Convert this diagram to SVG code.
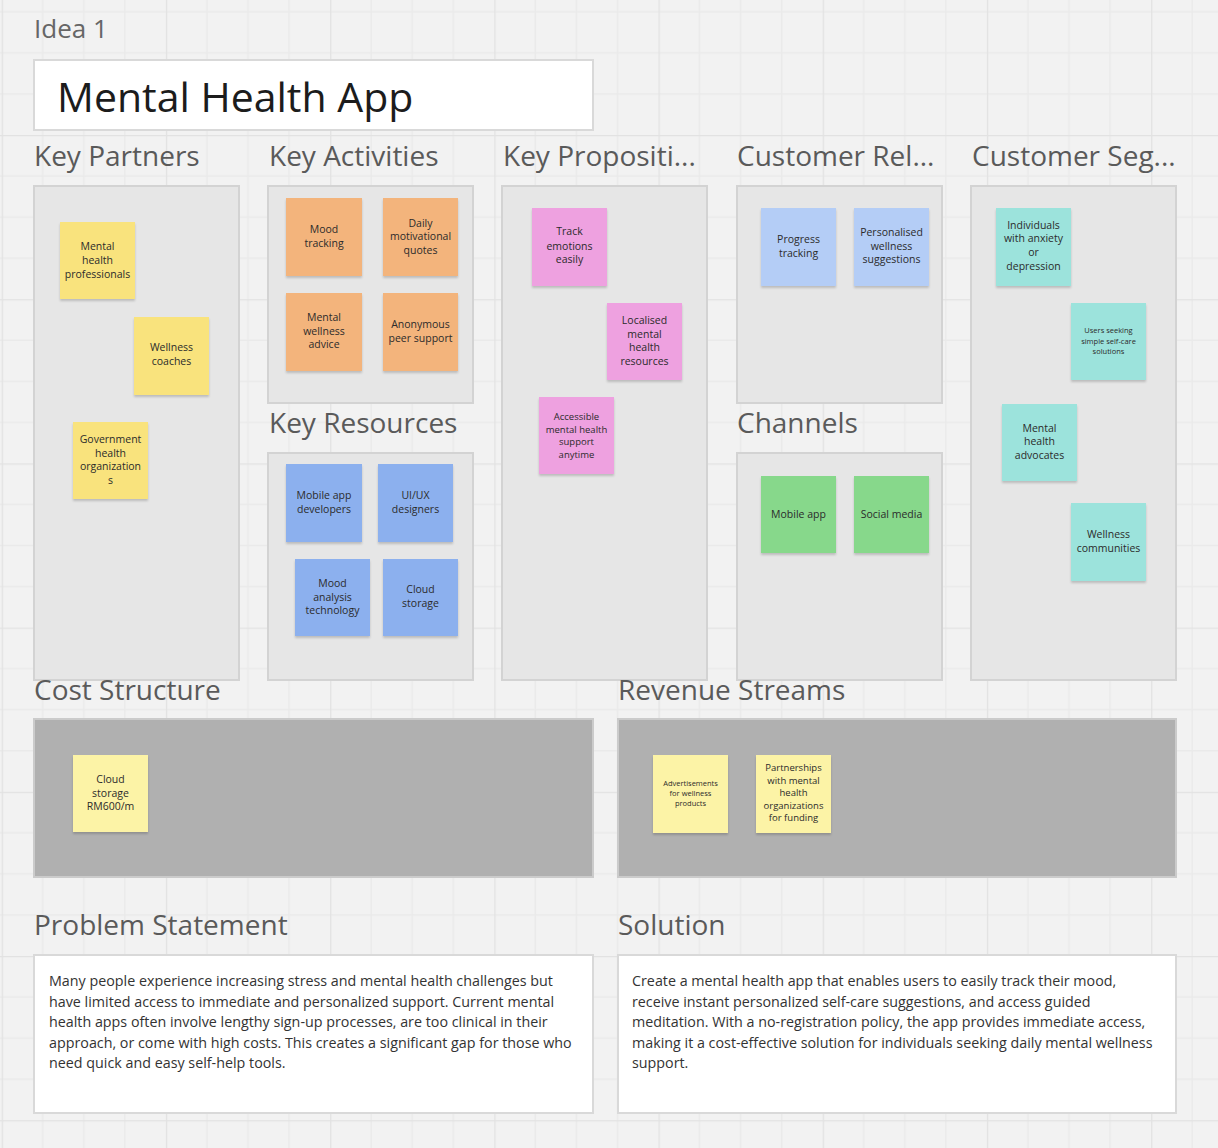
<svg xmlns="http://www.w3.org/2000/svg" width="1218" height="1148" viewBox="0 0 1218 1148">
<defs>
<pattern id="grid" x="1.7" y="-29.2" width="164.2" height="164.2" patternUnits="userSpaceOnUse">
<rect width="164.2" height="164.2" fill="#f2f2f2"/>
<g stroke="#eaeaea" stroke-width="1.5">
<line x1="41.05" y1="0" x2="41.05" y2="164.2"/>
<line x1="82.1" y1="0" x2="82.1" y2="164.2"/>
<line x1="123.15" y1="0" x2="123.15" y2="164.2"/>
<line x1="0" y1="41.05" x2="164.2" y2="41.05"/>
<line x1="0" y1="82.1" x2="164.2" y2="82.1"/>
<line x1="0" y1="123.15" x2="164.2" y2="123.15"/>
</g>
<g stroke="#e2e2e2" stroke-width="2.5">
<line x1="0" y1="0" x2="0" y2="164.2"/>
<line x1="0" y1="0" x2="164.2" y2="0"/>
</g>
</pattern>
<filter id="sh" x="-10%" y="-10%" width="120%" height="125%">
<feDropShadow dx="0" dy="2" stdDeviation="1.2" flood-color="#000" flood-opacity="0.18"/>
</filter>
</defs>
<style>
text{font-family:"Open Sans","Noto Sans","Liberation Sans",sans-serif}
.hd{font-size:28px;fill:#5a5a5a}
.panel{fill:#e6e6e6;stroke:#d3d3d3;stroke-width:2}
.dark{fill:#b0b0b0;stroke:#cbcbcb;stroke-width:2}
.white{fill:#ffffff;stroke:#d9d9d9;stroke-width:2}
.st{filter:url(#sh)}
.t{font-size:10.5px;fill:#2b2b2b;text-anchor:middle}
.ts{font-size:9.5px;fill:#2b2b2b;text-anchor:middle}
.tx{font-size:7.5px;fill:#2b2b2b;text-anchor:middle}
.y{fill:#f9e37d}
.o{fill:#f3b47c}
.b{fill:#8cb0ee}
.p{fill:#eea1e0}
.lb{fill:#b4cdf6}
.tl{fill:#9ce3dc}
.g{fill:#87d88b}
.py{fill:#fcf3a6}
.body{font-size:14.3px;fill:#333333}
</style>
<rect width="1218" height="1148" fill="url(#grid)"/>

<g id="header">
<text x="34" y="38" font-size="26" fill="#666666">Idea 1</text>
<rect x="34" y="60" width="559" height="70" class="white"/>
<text x="57" y="112" font-size="41" fill="#1c1c1c">Mental Health App</text>
</g>

<g id="connectors"></g>

<g id="key-partners">
<text class="hd" x="34" y="166">Key Partners</text>
<rect class="panel" x="34" y="186" width="205" height="494"/>
<g id="kp1"><rect class="st y" x="60" y="222" width="75" height="77"/><text class="t"><tspan x="97.5" y="250">Mental</tspan><tspan x="97.5" y="263.5">health</tspan><tspan x="97.5" y="277.5">professionals</tspan></text></g>
<g id="kp2"><rect class="st y" x="134" y="317" width="75" height="78"/><text class="t"><tspan x="171.5" y="351">Wellness</tspan><tspan x="171.5" y="365">coaches</tspan></text></g>
<g id="kp3"><rect class="st y" x="73" y="422" width="75" height="77"/><text class="t"><tspan x="110.5" y="443">Government</tspan><tspan x="110.5" y="456.5">health</tspan><tspan x="110.5" y="470">organization</tspan><tspan x="110.5" y="483.5">s</tspan></text></g>
</g>

<g id="key-activities">
<text class="hd" x="269" y="166">Key Activities</text>
<rect class="panel" x="268" y="186" width="205" height="217"/>
<g id="ka1"><rect class="st o" x="286" y="198" width="76" height="78"/><text class="t"><tspan x="324" y="232.5">Mood</tspan><tspan x="324" y="246.5">tracking</tspan></text></g>
<g id="ka2"><rect class="st o" x="383" y="198" width="75" height="78"/><text class="t"><tspan x="420.5" y="226.5">Daily</tspan><tspan x="420.5" y="240">motivational</tspan><tspan x="420.5" y="254">quotes</tspan></text></g>
<g id="ka3"><rect class="st o" x="286" y="293" width="76" height="78"/><text class="t"><tspan x="324" y="320.5">Mental</tspan><tspan x="324" y="334.5">wellness</tspan><tspan x="324" y="348">advice</tspan></text></g>
<g id="ka4"><rect class="st o" x="383" y="293" width="75" height="78"/><text class="t"><tspan x="420.5" y="327.5">Anonymous</tspan><tspan x="420.5" y="341.5">peer support</tspan></text></g>
</g>

<g id="key-resources">
<text class="hd" x="269" y="433">Key Resources</text>
<rect class="panel" x="268" y="453" width="205" height="227"/>
<g id="kr1"><rect class="st b" x="286" y="464" width="76" height="78"/><text class="t"><tspan x="324" y="498.5">Mobile app</tspan><tspan x="324" y="512.5">developers</tspan></text></g>
<g id="kr2"><rect class="st b" x="378" y="464" width="75" height="78"/><text class="t"><tspan x="415.5" y="498.5">UI/UX</tspan><tspan x="415.5" y="512.5">designers</tspan></text></g>
<g id="kr3"><rect class="st b" x="295" y="559" width="75" height="77"/><text class="t"><tspan x="332.5" y="586.5">Mood</tspan><tspan x="332.5" y="600.5">analysis</tspan><tspan x="332.5" y="614">technology</tspan></text></g>
<g id="kr4"><rect class="st b" x="383" y="559" width="75" height="77"/><text class="t"><tspan x="420.5" y="593">Cloud</tspan><tspan x="420.5" y="607">storage</tspan></text></g>
</g>

<g id="key-propositions">
<text class="hd" x="503" y="166">Key Propositi...</text>
<rect class="panel" x="502" y="186" width="205" height="494"/>
<g id="vp1"><rect class="st p" x="532" y="208" width="75" height="78"/><text class="t"><tspan x="569.5" y="235">Track</tspan><tspan x="569.5" y="249.5">emotions</tspan><tspan x="569.5" y="263">easily</tspan></text></g>
<g id="vp2"><rect class="st p" x="607" y="303" width="75" height="77"/><text class="t"><tspan x="644.5" y="323.5">Localised</tspan><tspan x="644.5" y="337.5">mental</tspan><tspan x="644.5" y="351">health</tspan><tspan x="644.5" y="364.5">resources</tspan></text></g>
<g id="vp3"><rect class="st p" x="539" y="397" width="75" height="77"/><text class="ts"><tspan x="576.5" y="420">Accessible</tspan><tspan x="576.5" y="432.5">mental health</tspan><tspan x="576.5" y="445">support</tspan><tspan x="576.5" y="457.5">anytime</tspan></text></g>
</g>

<g id="customer-relationships">
<text class="hd" x="737" y="166">Customer Rel...</text>
<rect class="panel" x="737" y="186" width="205" height="217"/>
<g id="cr1"><rect class="st lb" x="761" y="208" width="75" height="78"/><text class="t"><tspan x="798.5" y="242.5">Progress</tspan><tspan x="798.5" y="256.5">tracking</tspan></text></g>
<g id="cr2"><rect class="st lb" x="854" y="208" width="75" height="78"/><text class="t"><tspan x="891.5" y="235.5">Personalised</tspan><tspan x="891.5" y="249.5">wellness</tspan><tspan x="891.5" y="263">suggestions</tspan></text></g>
</g>

<g id="channels">
<text class="hd" x="737" y="433">Channels</text>
<rect class="panel" x="737" y="453" width="205" height="227"/>
<g id="chn1"><rect class="st g" x="761" y="476" width="75" height="77"/><text class="t" x="798.5" y="517.5">Mobile app</text></g>
<g id="chn2"><rect class="st g" x="854" y="476" width="75" height="77"/><text class="t" x="891.5" y="517.5">Social media</text></g>
</g>

<g id="customer-segments">
<text class="hd" x="972" y="166">Customer Seg...</text>
<rect class="panel" x="971" y="186" width="205" height="494"/>
<g id="cs1"><rect class="st tl" x="996" y="208" width="75" height="78"/><text class="t"><tspan x="1033.5" y="228.5">Individuals</tspan><tspan x="1033.5" y="242">with anxiety</tspan><tspan x="1033.5" y="256">or</tspan><tspan x="1033.5" y="269.5">depression</tspan></text></g>
<g id="cs2"><rect class="st tl" x="1071" y="303" width="75" height="77"/><text class="tx"><tspan x="1108.5" y="333">Users seeking</tspan><tspan x="1108.5" y="343.5">simple self-care</tspan><tspan x="1108.5" y="353.5">solutions</tspan></text></g>
<g id="cs3"><rect class="st tl" x="1002" y="404" width="75" height="77"/><text class="t"><tspan x="1039.5" y="431.5">Mental</tspan><tspan x="1039.5" y="445">health</tspan><tspan x="1039.5" y="458.5">advocates</tspan></text></g>
<g id="cs4"><rect class="st tl" x="1071" y="503" width="75" height="78"/><text class="t"><tspan x="1108.5" y="537.5">Wellness</tspan><tspan x="1108.5" y="551.5">communities</tspan></text></g>
</g>

<g id="cost-structure">
<text class="hd" x="34" y="700">Cost Structure</text>
<rect class="dark" x="34" y="719" width="559" height="158"/>
<g id="cost1"><rect class="st py" x="73" y="755" width="75" height="77"/><text class="t"><tspan x="110.5" y="782.5">Cloud</tspan><tspan x="110.5" y="796.5">storage</tspan><tspan x="110.5" y="809.5">RM600/m</tspan></text></g>
</g>

<g id="revenue-streams">
<text class="hd" x="618" y="700">Revenue Streams</text>
<rect class="dark" x="618" y="719" width="558" height="158"/>
<g id="rev1"><rect class="st py" x="653" y="755" width="75" height="78"/><text class="tx"><tspan x="690.5" y="785.5">Advertisements</tspan><tspan x="690.5" y="795.5">for wellness</tspan><tspan x="690.5" y="805.5">products</tspan></text></g>
<g id="rev2"><rect class="st py" x="756" y="755" width="75" height="78"/><text class="ts"><tspan x="793.5" y="771">Partnerships</tspan><tspan x="793.5" y="783.5">with mental</tspan><tspan x="793.5" y="796">health</tspan><tspan x="793.5" y="808.5">organizations</tspan><tspan x="793.5" y="821">for funding</tspan></text></g>
</g>

<g id="problem-statement">
<text class="hd" x="34" y="935">Problem Statement</text>
<rect class="white" x="34" y="955" width="559" height="158"/>
<text class="body"><tspan x="49" y="986">Many people experience increasing stress and mental health challenges but</tspan><tspan x="49" y="1006.5">have limited access to immediate and personalized support. Current mental</tspan><tspan x="49" y="1027">health apps often involve lengthy sign-up processes, are too clinical in their</tspan><tspan x="49" y="1047.5">approach, or come with high costs. This creates a significant gap for those who</tspan><tspan x="49" y="1068">need quick and easy self-help tools.</tspan></text>
</g>

<g id="solution">
<text class="hd" x="618" y="935">Solution</text>
<rect class="white" x="618" y="955" width="558" height="158"/>
<text class="body"><tspan x="632" y="986">Create a mental health app that enables users to easily track their mood,</tspan><tspan x="632" y="1006.5">receive instant personalized self-care suggestions, and access guided</tspan><tspan x="632" y="1027">meditation. With a no-registration policy, the app provides immediate access,</tspan><tspan x="632" y="1047.5">making it a cost-effective solution for individuals seeking daily mental wellness</tspan><tspan x="632" y="1068">support.</tspan></text>
</g>
</svg>
